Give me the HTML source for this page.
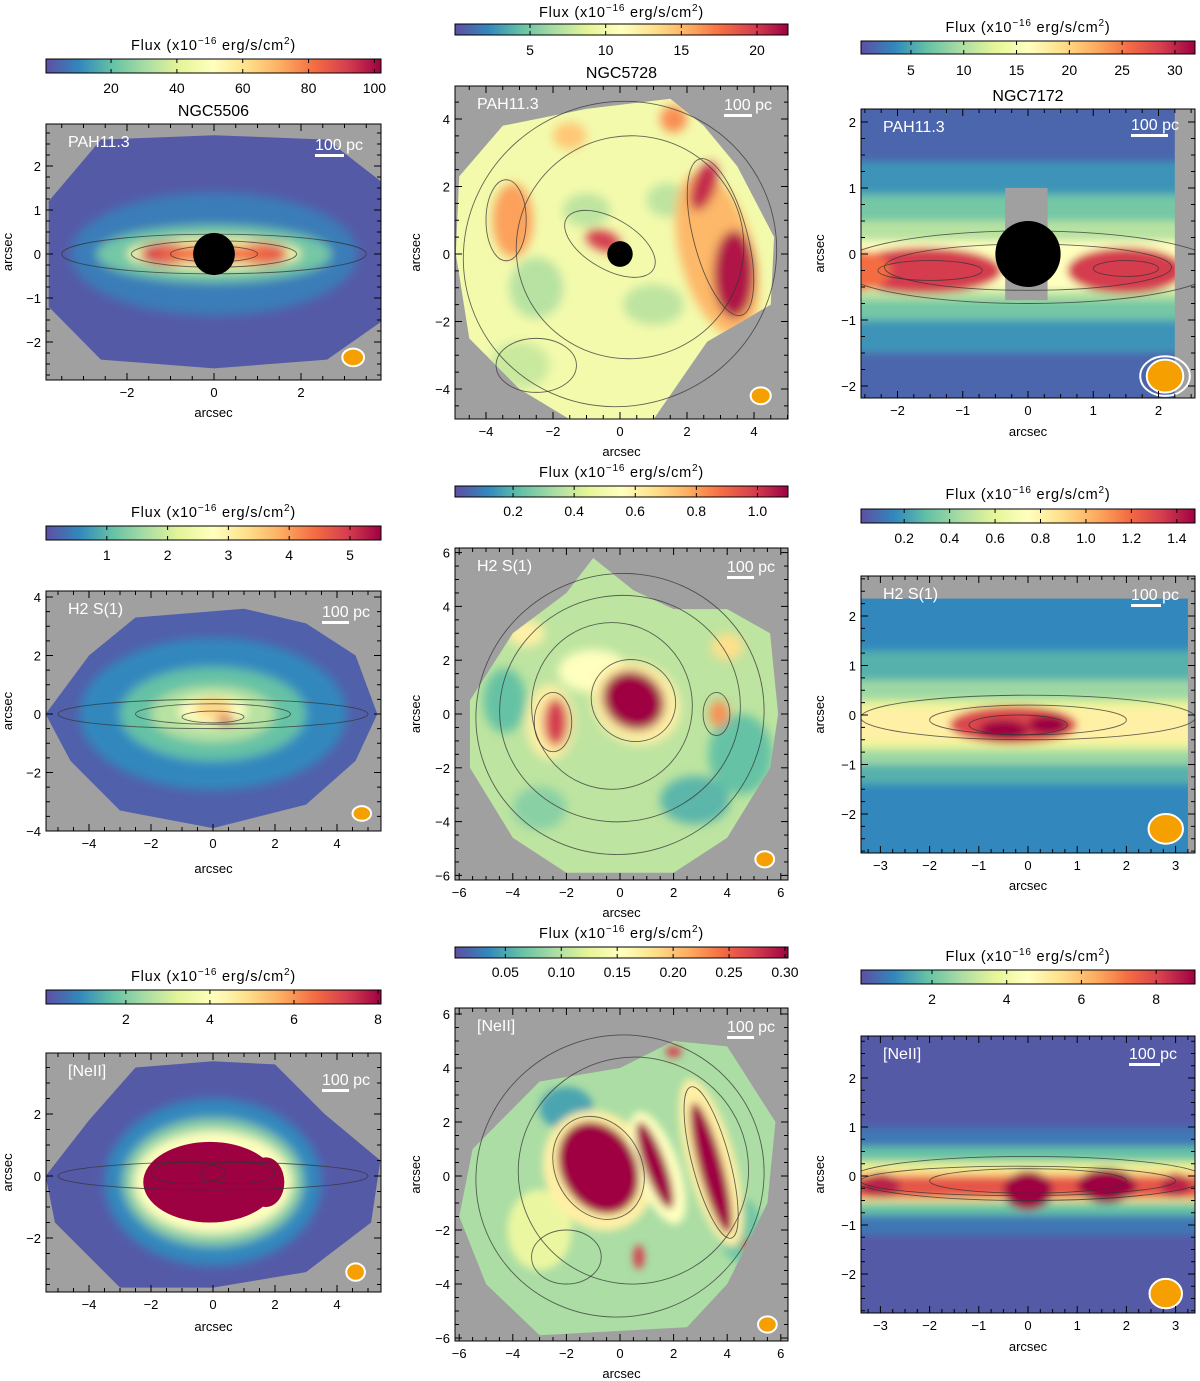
<!DOCTYPE html>
<html><head><meta charset="utf-8"><style>
html,body{margin:0;padding:0;background:#fff;}
svg{display:block;font-family:"Liberation Sans",sans-serif;}
</style></head><body>
<svg id="fig" width="1200" height="1381" viewBox="0 0 1200 1381" xmlns="http://www.w3.org/2000/svg"></svg>
<script>
// colorbar tick labels per panel
const cbTicks1=[20,40,60,80,100];
const cbTicks2=[5,10,15,20];
const cbTicks3=[5,10,15,20,25,30];
const cbTicks4=[1,2,3,4,5];
const cbTicks5=[0.2,0.4,0.6,0.8,1.0];
const cbTicks6=[0.2,0.4,0.6,0.8,1.0,1.2,1.4];
const cbTicks7=[2,4,6,8];
const cbTicks8=[0.05,0.10,0.15,0.20,0.25,0.30];
const cbTicks9=[2,4,6,8];
const cbRange1=[0.24,102], cbRange2=[0.04,22.05], cbRange3=[0.27,31.9];
const cbRange4=[0,5.51], cbRange5=[0.01,1.1], cbRange6=[0.01,1.48];
const cbRange7=[0.1,8.07], cbRange8=[0.005,0.3027], cbRange9=[0.1,9.04];
// axis ticks (arcsec)
const xt1=[-2,0,2], yt1=[-2,-1,0,1,2];
const xt2=[-4,-2,0,2,4], yt2=[-4,-2,0,2,4];
const xt3=[-2,-1,0,1,2], yt3=[-2,-1,0,1,2];
const xt4=[-4,-2,0,2,4], yt4=[-4,-2,0,2,4];
const xt5=[-6,-4,-2,0,2,4,6], yt5=[-6,-4,-2,0,2,4,6];
const xt6=[-3,-2,-1,0,1,2,3], yt6=[-2,-1,0,1,2];
const xt7=[-4,-2,0,2,4], yt7=[-2,0,2];
const xt8=[-6,-4,-2,0,2,4,6], yt8=[-6,-4,-2,0,2,4,6];
const xt9=[-3,-2,-1,0,1,2,3], yt9=[-2,-1,0,1,2];

const stops=["#5e4fa2","#3288bd","#66c2a5","#abdda4","#e6f598","#ffffbf","#fee08b","#fdae61","#f46d43","#d53e4f","#9e0142"];
function hx(h){return [parseInt(h.substr(1,2),16),parseInt(h.substr(3,2),16),parseInt(h.substr(5,2),16)];}
function col(t){t=Math.max(0,Math.min(1,t));const p=t*(stops.length-1),i=Math.min(stops.length-2,Math.floor(p)),f=p-i;
 const a=hx(stops[i]),b=hx(stops[i+1]);return "rgb("+a.map((v,k)=>Math.round(v+(b[k]-v)*f)).join(",")+")";}
function E(x,y,rx,ry,t,rot){return `<ellipse cx="${x}" cy="${y}" rx="${rx}" ry="${ry}" fill="${col(t)}" transform="rotate(${rot||0} ${x} ${y})"/>`;}
function R(x1,y1,x2,y2,t){return `<rect x="${x1}" y="${y1}" width="${x2-x1}" height="${y2-y1}" fill="${col(t)}"/>`;}
function C(x,y,rx,ry,rot){return `<ellipse cx="${x}" cy="${y}" rx="${rx}" ry="${ry}" fill="none" stroke="#333" stroke-opacity="0.75" stroke-width="0.9" vector-effect="non-scaling-stroke" transform="rotate(${rot||0} ${x} ${y})"/>`;}
function P(pts){return pts.map(p=>p.join(",")).join(" ");}

const panels=[
{id:1,box:[46,124,381,380],cx:214,cy:254,sx:43.5,sy:44,xt:xt1,yt:yt1,cb:[46,59,381,73],cbT:cbTicks1,cbR:cbRange1,cbL:88,ttl:45,gal:"NGC5506",galY:110,lab:"PAH11.3",xl:413,yl:8,blur:5,
 region:P([[-3.8,1.2],[-2.6,2.6],[0,2.7],[2.6,2.6],[3.9,1.6],[3.9,-1.5],[2.6,-2.4],[0,-2.6],[-2.6,-2.4],[-3.8,-1.2]]),
 base:0.02,blobs:E(0,0,3.3,1.4,0.08)+E(0,0,2.7,0.65,0.22)+E(0,0,2,0.38,0.45)+E(-1.1,0,0.6,0.25,0.9)+E(1.1,0,0.6,0.25,0.85)+E(0,0,1.3,0.2,0.8),
 cont:C(0,0,3.5,0.45)+C(0,0,1.9,0.3)+C(0,0,1,0.18),bh:[0,0,0.48],beam:[3.2,-2.35,0.25,0.2],sb:[315,344,150]},
{id:2,box:[455,86,788,419],cx:620,cy:254,sx:33.5,sy:33.75,xt:xt2,yt:yt2,cb:[455,24,788,35],cbT:cbTicks2,cbR:cbRange2,cbL:50,ttl:12,gal:"NGC5728",galY:72,lab:"PAH11.3",xl:452,yl:416,blur:5,
 region:P([[-4.8,2.3],[-3.5,3.8],[-1,4.3],[1.5,4.6],[2.5,3.8],[3.5,2.6],[4.6,0.5],[4.5,-1.5],[2.6,-2.6],[1,-4.9],[-1.5,-4.9],[-3,-4],[-4.5,-2.5],[-4.9,0]]),
 base:0.45,blobs:E(-2.5,-1,0.8,0.9,0.32)+E(-1,1.3,0.7,0.5,0.33)+E(1,-1.5,0.9,0.6,0.33)+E(1.4,1.6,0.6,0.5,0.33)+E(-3,-3.3,0.9,0.7,0.35)+E(-3.2,1,0.6,1.1,0.72)+E(2.9,0,1.1,2.5,0.68,15)+E(3.4,-0.6,0.6,1.3,0.97)+E(2.5,2,0.35,0.75,0.93,-20)+E(-0.5,0.4,0.55,0.3,0.9,-20)+E(-1.5,3.5,0.5,0.4,0.65)+E(1.6,4,0.4,0.4,0.75),
 cont:C(0,0,4.7,4.5,20)+C(0.3,0.2,3.4,3.3,10)+C(-0.3,0.3,1.5,0.75,-30)+C(3,0.5,0.8,2.4,15)+C(-3.4,1,0.6,1.2)+C(-2.5,-3.3,1.2,0.8),bh:[0,0,0.38],beam:[4.2,-4.2,0.3,0.25],sb:[724,752,110]},
{id:3,box:[861,109,1195,398],cx:1028,cy:254,sx:65.25,sy:66,xt:xt3,yt:yt3,cb:[861,41,1195,54],cbT:cbTicks3,cbR:cbRange3,cbL:70,ttl:27,gal:"NGC7172",galY:95,lab:"PAH11.3",xl:432,yl:820,blur:4,
 region:P([[-3,-3],[3,-3],[3,3],[-3,3]]),
 base:0.04,blobs:R(-3,-1.5,3,1.4,0.12)+R(-3,-1.0,3,0.9,0.22)+R(-3,-0.7,3,0.5,0.32)+R(-3,-0.55,3,0.2,0.5)+E(-1.6,-0.25,1.2,0.35,0.9)+E(1.5,-0.25,0.9,0.35,0.9)+E(-2.6,-0.25,0.5,0.3,0.8),
 extra:`<rect x="-0.35" y="-0.7" width="0.65" height="1.7" fill="#a0a0a0"/><rect x="2.25" y="-3" width="1" height="6" fill="#a0a0a0"/>`,
 cont:C(0,-0.2,2.9,0.55)+C(0,-0.2,2.2,0.35)+C(-1.5,-0.25,0.8,0.15)+C(1.5,-0.22,0.5,0.12),bh:[0,0,0.5],beam:[2.1,-1.85,0.28,0.25],ring:[2.1,-1.85,0.38,0.3],sb:[1131,1168,130]},
{id:4,box:[46,591,381,831],cx:213,cy:714,sx:31,sy:29.25,xt:xt4,yt:yt4,cb:[46,526,381,540],cbT:cbTicks4,cbR:cbRange4,cbL:555,ttl:512,lab:"H2  S(1)",xl:869,yl:8,blur:5,
 region:P([[-5.4,0],[-4,2],[-2.5,3.3],[1,3.6],[3,3.1],[4.6,2],[5.3,0],[4.6,-1.6],[3,-3.1],[0,-3.9],[-3,-3.3],[-4.6,-1.6]]),
 base:0.03,blobs:E(0,0,4.3,2.6,0.1)+E(0,0,3,1.6,0.2)+E(0,0,2,0.95,0.32)+E(0,0.1,1.1,0.5,0.5)+E(0,0.2,0.6,0.35,0.62)+E(0.4,-0.2,0.3,0.15,0.9),
 cont:C(0,0,5,0.5)+C(0,0,2.5,0.35)+C(0,-0.1,1,0.2),beam:[4.8,-3.4,0.3,0.25],sb:[322,349,617]},
{id:5,box:[455,548,788,880],cx:620,cy:714,sx:26.8,sy:26.9,xt:xt5,yt:yt5,cb:[455,486,788,497],cbT:cbTicks5,cbR:cbRange5,cbL:511,ttl:472,lab:"H2  S(1)",xl:913,yl:416,blur:5,
 region:P([[-5.6,0.5],[-4,3],[-2,4.5],[-1,5.8],[0.5,4.6],[2,3.9],[4,3.9],[5.6,3],[5.9,0],[5.6,-2],[4,-4.6],[2,-5.9],[-2,-5.9],[-4,-4.6],[-5.6,-2]]),
 base:0.33,blobs:E(4.5,-1.5,1.2,1.5,0.2)+E(2.8,-3.2,1.3,0.9,0.18)+E(-4.3,0.5,0.8,1.2,0.2)+E(-3,-3.5,1,0.8,0.25)+E(-1,1.6,1.3,0.8,0.5)+E(-2.6,-0.3,0.9,1.4,0.55)+E(0.6,0.4,1.7,1.5,0.55,-30)+E(0.5,0.5,1.2,1.05,1,-35)+E(-2.4,-0.3,0.45,0.9,0.9)+E(3.7,0,0.35,0.5,0.75)+E(4,2.5,0.6,0.5,0.6)+E(-3.5,3,0.7,0.5,0.55),
 cont:C(0,0,5.4,5.2,20)+C(0,0.2,4.5,4.2,10)+C(-0.3,0.3,3,3.1)+C(0.5,0.5,1.6,1.5,-30)+C(-2.5,-0.3,0.7,1.1)+C(3.6,0,0.5,0.8),beam:[5.4,-5.4,0.35,0.3],sb:[727,754,572]},
{id:6,box:[861,576,1195,853],cx:1028,cy:715,sx:49.2,sy:49.5,xt:xt6,yt:yt6,cb:[861,509,1195,523],cbT:cbTicks6,cbR:cbRange6,cbL:538,ttl:494,lab:"H2  S(1)",xl:886,yl:820,blur:4,
 region:P([[-4,-3],[4,-3],[4,2.35],[-4,2.35]]),
 base:0.1,blobs:R(-4,-1.4,4,1.3,0.17)+R(-4,-1.0,4,0.7,0.28)+R(-4,-0.7,4,0.3,0.4)+R(-4,-0.55,4,0.15,0.55)+E(-0.3,-0.2,1.3,0.38,0.88)+E(-0.5,-0.3,0.5,0.2,1)+E(0.4,-0.2,0.4,0.2,1),
 extra:`<rect x="3.25" y="-3" width="1" height="6" fill="#a0a0a0"/>`,
 cont:C(0,-0.05,3.4,0.45)+C(0,-0.1,2,0.3)+C(-0.2,-0.2,1,0.2),beam:[2.8,-2.3,0.35,0.3],sb:[1131,1161,600]},
{id:7,box:[46,1053,381,1292],cx:213,cy:1176,sx:31,sy:31,xt:xt7,yt:yt7,cb:[46,990,381,1004],cbT:cbTicks7,cbR:cbRange7,cbL:1019,ttl:976,lab:"[NeII]",xl:1327,yl:8,blur:5,
 region:P([[-5.4,0],[-4,1.8],[-2.5,3.5],[0,3.7],[2,3.6],[3.6,2],[5.4,0.5],[5.1,-1.5],[3,-3.1],[0,-3.6],[-3,-3.6],[-5.1,-1.5]]),
 base:0.02,blobs:E(0,-0.2,3.5,2.7,0.1)+E(0,-0.2,2.9,2.05,0.26)+E(0,-0.2,2.55,1.65,0.5),
 extra:`<ellipse cx="-0.1" cy="-0.2" rx="2.15" ry="1.3" fill="#9e0142"/><ellipse cx="1.7" cy="-0.2" rx="0.6" ry="0.8" fill="#9e0142"/>`,
 cont:C(0,0,5,0.45)+C(-0.8,0.1,1.2,0.35)+C(0.8,0.1,1.2,0.35),beam:[4.6,-3.1,0.3,0.28],sb:[322,349,1085]},
{id:8,box:[455,1008,788,1341],cx:620,cy:1176,sx:26.8,sy:27,xt:xt8,yt:yt8,cb:[455,947,788,958],cbT:cbTicks8,cbR:cbRange8,cbL:972,ttl:933,lab:"[NeII]",xl:1374,yl:416,blur:4,
 region:P([[-6,-1.5],[-5.5,1],[-3,3.5],[0,4],[2,5],[4,4.8],[5.8,2],[5.5,-1],[4,-4],[2.5,-5.6],[-3,-5.9],[-5,-4]]),
 base:0.3,blobs:E(-3,-2,1.2,1.5,0.42)+E(-2,2.5,1,0.8,0.15)+E(4.5,-2,0.8,1.2,0.22)+E(-0.8,0.2,2,2.3,0.55,30)+E(3.4,0.5,0.9,3.2,0.55,15)+E(1.4,0.3,0.8,2.2,0.5,20)+E(-0.8,0.3,1.4,1.8,1,30)+E(1.3,0.4,0.4,1.7,1,20)+E(3.4,0.3,0.45,2.5,1,15)+E(0.7,-3,0.2,0.45,0.9)+E(4.8,-2.6,0.2,0.25,0.9)+E(2,4.6,0.3,0.2,0.9),
 cont:C(0,0,5.4,5.2,20)+C(0.5,0.2,4.3,4.2,10)+C(-0.8,0.3,1.6,2,30)+C(3.4,0.5,0.7,2.9,15)+C(-2,-3,1.3,1),beam:[5.5,-5.5,0.35,0.3],sb:[727,754,1032]},
{id:9,box:[861,1036,1195,1313],cx:1028,cy:1176,sx:49.2,sy:49,xt:xt9,yt:yt9,cb:[861,970,1195,984],cbT:cbTicks9,cbR:cbRange9,cbL:999,ttl:956,lab:"[NeII]",xl:1347,yl:820,blur:4,
 region:P([[-4,-3],[4,-3],[4,3],[-4,3]]),
 base:0.02,blobs:R(-4,-1.2,4,1.0,0.07)+R(-4,-0.8,4,0.6,0.2)+R(-4,-0.55,4,0.3,0.4)+R(-4,-0.5,4,0.15,0.6)+R(-4,-0.45,4,0.0,0.85)+E(0,-0.3,0.5,0.4,1)+E(1.6,-0.2,0.6,0.35,1)+E(-3,-0.2,0.4,0.25,0.95)+E(3,-0.2,0.3,0.25,0.95),
 cont:C(0,-0.05,3.6,0.45)+C(0,-0.1,2,0.25)+C(-0.2,-0.1,3.2,0.3),beam:[2.8,-2.4,0.33,0.3],sb:[1129,1160,1059]}
];

const svg=document.getElementById('fig');
let defs=`<defs><linearGradient id="spec" x1="0" x2="1" y1="0" y2="0">${stops.map((s,i)=>`<stop offset="${i/(stops.length-1)}" stop-color="${s}"/>`).join("")}</linearGradient>`;
let body="";
panels.forEach(p=>{
 const [x1,y1,x2,y2]=p.box, W=x2-x1, H=y2-y1;
 const tr=`translate(${p.cx},${p.cy}) scale(${p.sx},${-p.sy})`;
 defs+=`<clipPath id="box${p.id}"><rect x="${x1}" y="${y1}" width="${W}" height="${H}"/></clipPath>`;
 defs+=`<clipPath id="reg${p.id}"><polygon transform="${tr}" points="${p.region}"/></clipPath>`;
 defs+=`<filter id="bl${p.id}" x="-20%" y="-20%" width="140%" height="140%"><feGaussianBlur stdDeviation="${p.blur}"/></filter>`;
 let g=`<g>`;
 g+=`<g clip-path="url(#box${p.id})"><rect x="${x1}" y="${y1}" width="${W}" height="${H}" fill="#a0a0a0"/>`;
 g+=`<g clip-path="url(#reg${p.id})"><rect x="${x1}" y="${y1}" width="${W}" height="${H}" fill="${col(p.base)}"/>`;
 g+=`<g filter="url(#bl${p.id})"><g transform="${tr}">${p.blobs}</g></g>`;
 g+=`<g transform="${tr}">${p.extra||""}</g></g>`;
 g+=`<g transform="${tr}">${p.cont}`;
 if(p.bh) g+=`<circle cx="${p.bh[0]}" cy="${p.bh[1]}" r="${p.bh[2]}" fill="#000"/>`;
 g+=`</g>`;
 const bx=p.cx+p.beam[0]*p.sx, by=p.cy-p.beam[1]*p.sy;
 if(p.ring) g+=`<ellipse cx="${bx}" cy="${by}" rx="${p.ring[2]*p.sx}" ry="${p.ring[3]*p.sy}" fill="none" stroke="#fff" stroke-width="2"/>`;
 g+=`<ellipse cx="${bx}" cy="${by}" rx="${p.beam[2]*p.sx}" ry="${p.beam[3]*p.sy}" fill="#f5a000" stroke="#fff" stroke-width="2"/>`;
 g+=`</g>`;
 g+=`<text x="${x1+22}" y="${y1+23}" fill="#fff" font-size="16">${p.lab}</text>`;
 g+=`<text x="${p.sb[0]}" y="${p.sb[2]}" fill="#fff" font-size="16">100 pc</text>`;
 g+=`<rect x="${p.sb[0]}" y="${p.sb[2]+4}" width="${p.sb[1]-p.sb[0]}" height="3" fill="#fff"/>`;
 g+=`<rect x="${x1}" y="${y1}" width="${W}" height="${H}" fill="none" stroke="#000" stroke-width="1"/>`;
 let tk="";
 const xmin=(x1-p.cx)/p.sx, xmax=(x2-p.cx)/p.sx, ymin=(p.cy-y2)/p.sy, ymax=(p.cy-y1)/p.sy;
 const stepX=p.xt[1]-p.xt[0], stepY=p.yt[1]-p.yt[0];
 for(let v=Math.ceil(xmin/(stepX/4))*(stepX/4); v<=xmax; v+=stepX/4){const X=p.cx+v*p.sx;const maj=p.xt.some(t=>Math.abs(t-v)<1e-6);const L=maj?7:4;
  tk+=`<line x1="${X}" y1="${y2}" x2="${X}" y2="${y2-L}" stroke="#000"/><line x1="${X}" y1="${y1}" x2="${X}" y2="${y1+L}" stroke="#000"/>`;}
 for(let v=Math.ceil(ymin/(stepY/4))*(stepY/4); v<=ymax; v+=stepY/4){const Y=p.cy-v*p.sy;const maj=p.yt.some(t=>Math.abs(t-v)<1e-6);const L=maj?7:4;
  tk+=`<line x1="${x1}" y1="${Y}" x2="${x1+L}" y2="${Y}" stroke="#000"/><line x1="${x2}" y1="${Y}" x2="${x2-L}" y2="${Y}" stroke="#000"/>`;}
 p.xt.forEach(v=>{tk+=`<text x="${p.cx+v*p.sx}" y="${y2+17}" font-size="13" text-anchor="middle">${v<0?"−"+(-v):v}</text>`;});
 p.yt.forEach(v=>{tk+=`<text x="${x1-5}" y="${p.cy-v*p.sy+5}" font-size="13" text-anchor="end">${v<0?"−"+(-v):v}</text>`;});
 g+=`<g>${tk}</g>`;
 g+=`<text x="${(x1+x2)/2}" y="${p.xl+4}" font-size="13" text-anchor="middle">arcsec</text>`;
 g+=`<text transform="translate(${p.yl+4},${(y1+y2)/2}) rotate(-90)" font-size="13" text-anchor="middle">arcsec</text>`;
 if(p.gal) g+=`<text x="${(x1+x2)/2}" y="${p.galY+6}" font-size="16" text-anchor="middle">${p.gal}</text>`;
 const [c1,cy1,c2,cy2]=p.cb, cw=c2-c1;
 let cbs=`<rect x="${c1}" y="${cy1}" width="${cw}" height="${cy2-cy1}" fill="url(#spec)" stroke="#000"/>`;
 p.cbT.forEach(v=>{const X=c1+(v-p.cbR[0])/(p.cbR[1]-p.cbR[0])*cw;
  cbs+=`<line x1="${X}" y1="${cy2}" x2="${X}" y2="${cy2-4}" stroke="#000"/><line x1="${X}" y1="${cy1}" x2="${X}" y2="${cy1+4}" stroke="#000"/>`;
  cbs+=`<text x="${X}" y="${p.cbL+5}" font-size="14" text-anchor="middle">${v<1&&v>0?v.toFixed(p.id==8?2:1):(p.id==5||p.id==6)?v.toFixed(1):v}</text>`;});
 cbs+=`<text x="${(c1+c2)/2}" y="${p.ttl+5}" font-size="14.5" letter-spacing="0.8" text-anchor="middle">Flux (x10<tspan font-size="10" dy="-6">−16</tspan><tspan dy="6"> erg/s/cm</tspan><tspan font-size="10" dy="-6">2</tspan><tspan dy="6">)</tspan></text>`;
 g+=`<g>${cbs}</g>`;
 g+=`</g>`;
 body+=g;
});
svg.innerHTML=defs+"</defs>"+body;
</script>
</body></html>
